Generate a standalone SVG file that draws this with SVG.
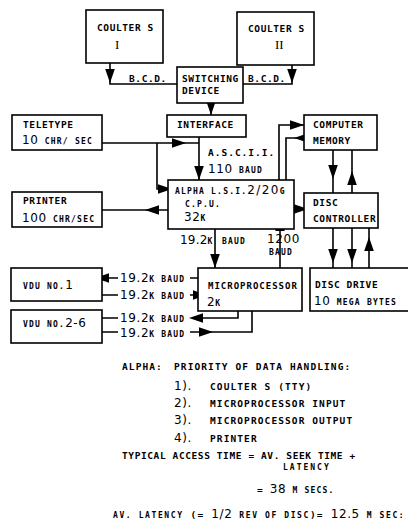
<svg xmlns="http://www.w3.org/2000/svg" width="408" height="523" viewBox="0 0 408 523">
<style>
.bx{fill:#fff;stroke:#000;stroke-width:1.6}
.ln{fill:none;stroke:#000;stroke-width:1.6}
.ah{fill:#000}
.c{font-family:'DejaVu Sans Mono','Liberation Mono',monospace;font-size:9.5px;font-weight:bold;letter-spacing:0.6px;fill:#000}
.s{font-size:8px;letter-spacing:1.2px}
.d{font-family:'DejaVu Sans','Liberation Sans',sans-serif;font-size:12px;font-weight:normal;letter-spacing:0.6px}
.r{font-family:'Liberation Serif','Times New Roman',serif;font-size:13px;font-weight:normal}
.n{letter-spacing:1.1px}
</style>
<defs>
<path id="ah" class="ah" d="M0,0 L-14,-4.8 L-14,4.8 Z"/>
</defs>
<rect width="408" height="523" fill="#fff"/>

<g id="connectors">
<path class="ln" d="M110,63 V84 H177"/>
<use href="#ah" transform="translate(110,83) rotate(90)"/>
<path class="ln" d="M292,65 V84 H243"/>
<use href="#ah" transform="translate(292,83) rotate(90)"/>
<path class="ln" d="M211,103 V115"/>
<use href="#ah" transform="translate(211,115) rotate(90)"/>
<path class="ln" d="M102,143 H199"/>
<use href="#ah" transform="translate(186,143)"/>
<path class="ln" d="M157,143 V189 H170"/>
<use href="#ah" transform="translate(172,189)"/>
<path class="ln" d="M199,137 V180"/>
<use href="#ah" transform="translate(199,180) rotate(90)"/>
<path class="ln" d="M168,210 H102"/>
<use href="#ah" transform="translate(145,210) rotate(180)"/>
<path class="ln" d="M279,180 V125 H304"/>
<use href="#ah" transform="translate(304,125)"/>
<path class="ln" d="M304,138 H286 V180"/>
<use href="#ah" transform="translate(294,138) rotate(180)"/>
<path class="ln" d="M294,209 H305"/>
<use href="#ah" transform="translate(308,209)"/>
<path class="ln" d="M333,150 V193"/>
<use href="#ah" transform="translate(333,179) rotate(90)"/>
<path class="ln" d="M352,193 V150"/>
<use href="#ah" transform="translate(352,171) rotate(-90)"/>
<path class="ln" d="M333,228 V268"/>
<use href="#ah" transform="translate(333,263) rotate(90)"/>
<path class="ln" d="M352,228 V268"/>
<use href="#ah" transform="translate(352,263) rotate(90)"/>
<path class="ln" d="M369,268 V228"/>
<use href="#ah" transform="translate(369,237) rotate(-90)"/>
<path class="ln" d="M215,229 V268"/>
<use href="#ah" transform="translate(215,268) rotate(90)"/>
<path class="ln" d="M280,268 V229"/>
<use href="#ah" transform="translate(280,217) rotate(-90)"/>
<path class="ln" d="M198,278 H190 M118,278 H97"/>
<use href="#ah" transform="translate(95,278) rotate(180)"/>
<path class="ln" d="M102,295 H118 M190,295 H205"/>
<use href="#ah" transform="translate(207,295)"/>
<path class="ln" d="M238,311 V318 H192 M118,318 H102"/>
<use href="#ah" transform="translate(189,318) rotate(180)"/>
<path class="ln" d="M102,332 H118 M190,332 H252 V311"/>
<use href="#ah" transform="translate(213,332)"/>
</g>

<g id="coulter1">
<rect class="bx" x="86" y="10" width="77" height="53"/>
<text class="c" x="97" y="31">COULTER S</text>
<text class="r" x="115" y="49">I</text>
</g>
<g id="coulter2">
<rect class="bx" x="237" y="12" width="77" height="53"/>
<text class="c" x="248" y="32">COULTER S</text>
<text class="r" x="275" y="49">II</text>
</g>
<g id="switching">
<rect class="bx" x="177" y="67" width="66" height="36"/>
<text class="c" x="182" y="82">SWITCHING</text>
<text class="c" x="182" y="94">DEVICE</text>
</g>
<text class="c" x="129" y="82">B.C.D.</text>
<text class="c" x="248" y="82">B.C.D.</text>
<g id="interface">
<rect class="bx" x="167" y="115" width="79" height="22"/>
<text class="c" x="177" y="128">INTERFACE</text>
</g>
<g id="teletype">
<rect class="bx" x="12" y="115" width="90" height="35"/>
<text class="c" x="23" y="128">TELETYPE</text>
<text class="c" x="22" y="144"><tspan class="d">10</tspan> <tspan class="s">CHR/ SEC</tspan></text>
</g>
<text class="c" x="208" y="156" style="letter-spacing:1px">A.S.C.I.I.</text>
<text class="c" x="208" y="173"><tspan class="d">110</tspan> <tspan class="s">BAUD</tspan></text>
<g id="memory">
<rect class="bx" x="304" y="115" width="73" height="35"/>
<text class="c" x="313" y="128">COMPUTER</text>
<text class="c" x="313" y="144">MEMORY</text>
</g>
<g id="cpu">
<rect class="bx" x="168" y="180" width="126" height="49"/>
<text class="c" x="175" y="194"><tspan class="s">ALPHA L.S.I.</tspan><tspan class="d" style="letter-spacing:1.4px">2/20</tspan><tspan class="s">G</tspan></text>
<text class="c" x="185" y="207"><tspan class="s">C.P.U.</tspan></text>
<text class="c" x="184" y="221"><tspan class="d">32</tspan><tspan class="s">K</tspan></text>
</g>
<g id="printer">
<rect class="bx" x="12" y="192" width="90" height="35"/>
<text class="c" x="23" y="204">PRINTER</text>
<text class="c" x="22" y="222"><tspan class="d">100</tspan> <tspan class="s">CHR/SEC</tspan></text>
</g>
<g id="controller">
<rect class="bx" x="304" y="193" width="74" height="35"/>
<text class="c" x="313" y="206">DISC</text>
<text class="c" x="313" y="222">CONTROLLER</text>
</g>
<text class="c" x="180" y="244"><tspan class="d" style="letter-spacing:0.2px">19.2</tspan><tspan class="s" style="letter-spacing:0">K</tspan></text>
<text class="c s" x="222" y="244">BAUD</text>
<text class="c" x="267" y="243"><tspan class="d">1200</tspan></text>
<text class="c s" x="269" y="255">BAUD</text>
<g id="discdrive">
<rect class="bx" x="310" y="268" width="104" height="43"/>
<text class="c" x="315" y="288">DISC DRIVE</text>
<text class="c" x="314" y="305"><tspan class="d">10</tspan> <tspan class="s">MEGA BYTES</tspan></text>
</g>
<g id="microprocessor">
<rect class="bx" x="198" y="268" width="104" height="43"/>
<text class="c" x="208" y="289" style="font-size:9px;letter-spacing:1px">MICROPROCESSOR</text>
<text class="c" x="207" y="306"><tspan class="d">2</tspan><tspan class="s">K</tspan></text>
</g>
<g id="vdu1">
<rect class="bx" x="11" y="268" width="91" height="33"/>
<text class="c" x="23" y="289"><tspan class="s">VDU NO.</tspan><tspan class="d">1</tspan></text>
</g>
<g id="vdu26">
<rect class="bx" x="11" y="310" width="91" height="33"/>
<text class="c" x="23" y="327"><tspan class="s">VDU NO.</tspan><tspan class="d">2-6</tspan></text>
</g>
<text class="c" x="120" y="282"><tspan class="d">19.2</tspan><tspan class="s">K BAUD</tspan></text>
<text class="c" x="120" y="299"><tspan class="d">19.2</tspan><tspan class="s">K BAUD</tspan></text>
<text class="c" x="120" y="322"><tspan class="d">19.2</tspan><tspan class="s">K BAUD</tspan></text>
<text class="c" x="120" y="337"><tspan class="d">19.2</tspan><tspan class="s">K BAUD</tspan></text>

<g id="notes">
<text class="c n" x="122" y="370">ALPHA:</text>
<text class="c n" x="174" y="370">PRIORITY OF DATA HANDLING:</text>
<text class="c" x="174" y="390"><tspan class="d">1).</tspan></text>
<text class="c n" x="210" y="390">COULTER S (TTY)</text>
<text class="c" x="174" y="407"><tspan class="d">2).</tspan></text>
<text class="c n" x="210" y="407">MICROPROCESSOR INPUT</text>
<text class="c" x="174" y="424"><tspan class="d">3).</tspan></text>
<text class="c n" x="210" y="424">MICROPROCESSOR OUTPUT</text>
<text class="c" x="174" y="442"><tspan class="d">4).</tspan></text>
<text class="c n" x="210" y="442">PRINTER</text>
<text class="c" x="122" y="459">TYPICAL ACCESS TIME = AV. SEEK TIME +</text>
<text class="c s" x="283" y="470" style="letter-spacing:2px">LATENCY</text>
<text class="c" x="257" y="493">= <tspan class="d">38</tspan> <tspan class="s">M SECS.</tspan></text>
<text class="c" x="113" y="518" style="letter-spacing:1.2px"><tspan class="s" style="letter-spacing:1.6px">AV. LATENCY</tspan> (= <tspan class="d">1/2</tspan> <tspan class="s" style="letter-spacing:1.6px">REV OF DISC</tspan>)= <tspan class="d">12.5</tspan> <tspan class="s" style="letter-spacing:1.6px">M SEC:</tspan></text>
</g>
</svg>
